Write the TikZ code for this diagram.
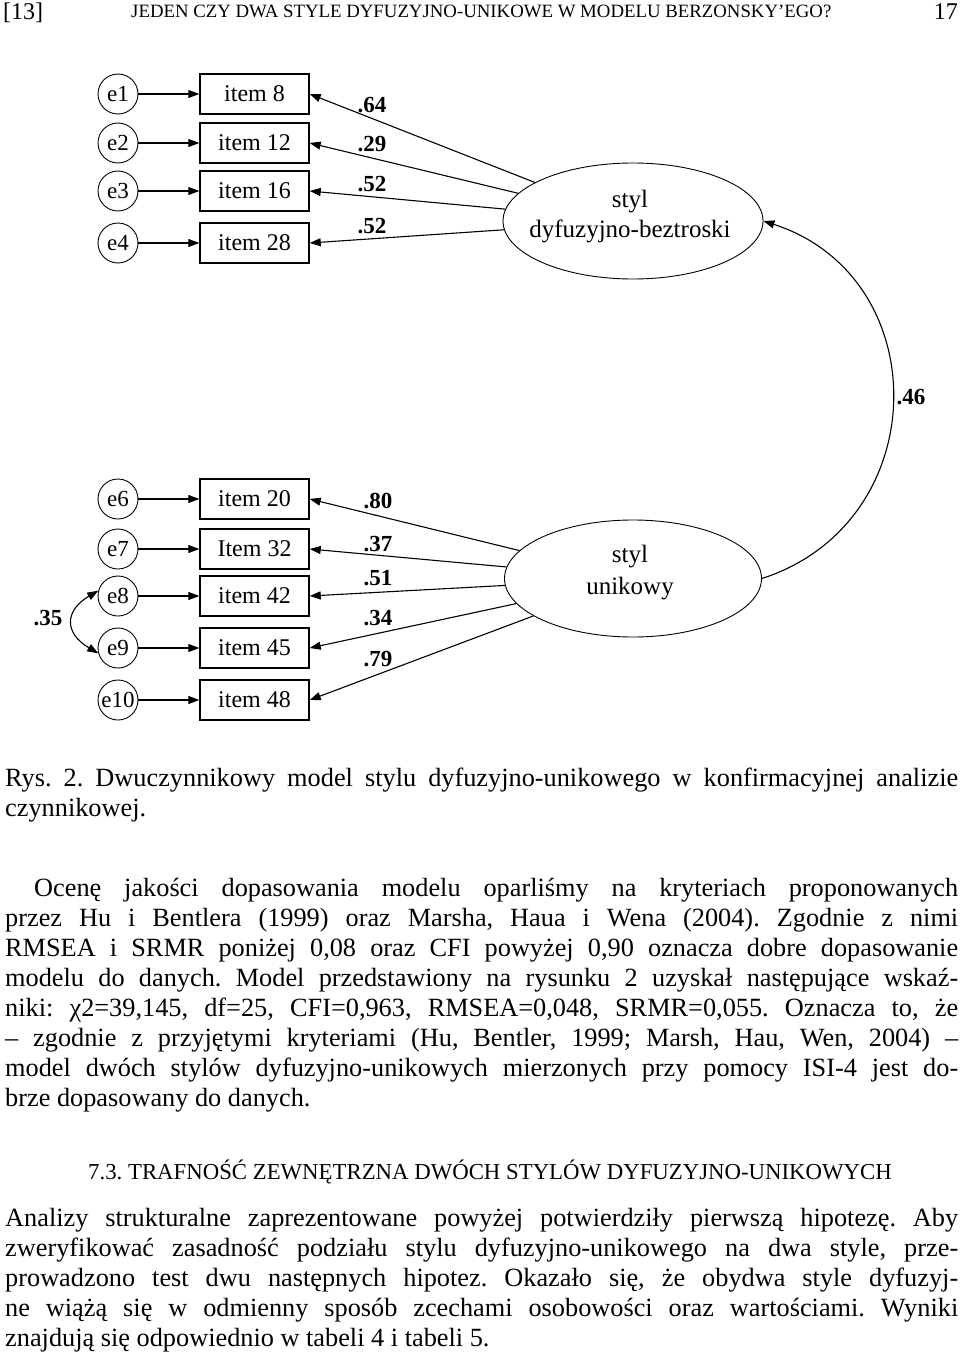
\documentclass[tikz,border=0pt]{standalone}
\usepackage{fontspec}
\setmainfont{Liberation Serif}
\usetikzlibrary{arrows.meta,shapes.geometric}
\frenchspacing
\begin{document}
\begin{tikzpicture}[x=1pt,y=-1pt,
  err/.style={draw,circle,minimum size=40pt,inner sep=0pt,line width=0.9pt,font=\fontsize{23}{23}\selectfont},
  obs/.style={draw,rectangle,minimum width=109pt,minimum height=40pt,inner sep=0pt,line width=1.4pt,font=\fontsize{24}{24}\selectfont},
  lat/.style={draw,ellipse,inner sep=0pt,line width=0.9pt},
  lattext/.style={anchor=base,inner sep=0pt,font=\fontsize{25}{30}\selectfont},
  coef/.style={inner sep=0pt,font=\bfseries\fontsize{23}{23}\selectfont},
  arr/.style={line width=1.1pt,-{Triangle[length=11pt,width=8pt]}},
  darr/.style={line width=1.1pt,{Triangle[length=11pt,width=8pt]}-{Triangle[length=11pt,width=8pt]}},
  body/.style={anchor=base west,inner sep=0pt,font=\fontsize{26.3}{30}\selectfont},
  head/.style={inner sep=0pt,font=\fontsize{18.8}{20}\selectfont},
]
\useasboundingbox (0,0) rectangle (960,1362);

% header
\node[anchor=base west,inner sep=0pt,font=\fontsize{24}{24}\selectfont] (pg1) at (3,20) {[13]};
\node[head,anchor=base west] (runhead) at (131,18) {JEDEN CZY DWA STYLE DYFUZYJNO-UNIKOWE W MODELU BERZONSKY’EGO?};
\node[anchor=base east,inner sep=0pt,font=\fontsize{24}{24}\selectfont] (pg2) at (958,20) {17};

% top factor
\node[err] (e1) at (118,94) {e1};
\node[err] (e2) at (118,143) {e2};
\node[err] (e3) at (118,191) {e3};
\node[err] (e4) at (118,243) {e4};
\node[obs] (b1) at (254.5,94) {item 8};
\node[obs] (b2) at (254.5,143) {item 12};
\node[obs] (b3) at (254.5,191) {item 16};
\node[obs] (b4) at (254.5,243) {item 28};
\node[lat,minimum width=260pt,minimum height=116pt] (f1) at (633,221) {};
\node[lattext] (f1a) at (630,207) {styl};
\node[lattext] (f1b) at (630,237) {dyfuzyjno-beztroski};
\foreach \i in {1,2,3,4}{\draw[arr] (e\i) -- (b\i);}
\foreach \i in {1,2,3,4}{\draw[arr] (f1) -- (b\i.east);}
\node[coef] (c1) at (372,105) {.64};
\node[coef] (c2) at (372,144) {.29};
\node[coef] (c3) at (372,184) {.52};
\node[coef] (c4) at (372,226) {.52};

% bottom factor
\node[err] (e6) at (118,499) {e6};
\node[err] (e7) at (118,549) {e7};
\node[err] (e8) at (118,596) {e8};
\node[err] (e9) at (118,648) {e9};
\node[err] (e10) at (118,700) {e10};
\node[obs] (b6) at (254.5,499) {item 20};
\node[obs] (b7) at (254.5,549) {Item 32};
\node[obs] (b8) at (254.5,596) {item 42};
\node[obs] (b9) at (254.5,648) {item 45};
\node[obs] (b10) at (254.5,700) {item 48};
\node[lat,minimum width=257pt,minimum height=117pt] (f2) at (633,578.5) {};
\node[lattext] (f2a) at (630,562) {styl};
\node[lattext] (f2b) at (630,594) {unikowy};
\foreach \i in {6,7,8,9,10}{\draw[arr] (e\i) -- (b\i);}
\foreach \i in {6,7,8,9,10}{\draw[arr] (f2) -- (b\i.east);}
\node[coef] (c6) at (378,501) {.80};
\node[coef] (c7) at (378,544) {.37};
\node[coef] (c8) at (378,578) {.51};
\node[coef] (c9) at (378,618) {.34};
\node[coef] (c10) at (378,659) {.79};

% covariances
\draw[darr] (e8.165) .. controls +(-34,20) and +(-34,-20) .. (e9.195);
\node[coef] (c35) at (48,618) {.35};
\draw[arr] (f2.east) .. controls +(173,-56) and +(173,56) .. (f1.east);
\node[coef] (c46) at (911,397) {.46};

% caption
\node[body] (cap1) at (5,786) {\hbox to 953pt{Rys. 2. Dwuczynnikowy model stylu dyfuzyjno-unikowego w konfirmacyjnej analizie}};
\node[body] (cap2) at (5,816) {czynnikowej.};

% paragraph 1
\node[body] (p1) at (34,896) {\hbox to 924pt{Ocenę jakości dopasowania modelu oparliśmy na kryteriach proponowanych}};
\node[body] (p2) at (5,926) {\hbox to 953pt{przez Hu i Bentlera (1999) oraz Marsha, Haua i Wena (2004). Zgodnie z nimi}};
\node[body] (p3) at (5,956) {\hbox to 953pt{RMSEA i SRMR poniżej 0,08 oraz CFI powyżej 0,90 oznacza dobre dopasowanie}};
\node[body] (p4) at (5,986) {\hbox to 953pt{modelu do danych. Model przedstawiony na rysunku 2 uzyskał następujące wskaź-}};
\node[body] (p5) at (5,1016) {\hbox to 953pt{niki: χ2=39,145, df=25, CFI=0,963, RMSEA=0,048, SRMR=0,055. Oznacza to, że}};
\node[body] (p6) at (5,1046) {\hbox to 953pt{– zgodnie z przyjętymi kryteriami (Hu, Bentler, 1999; Marsh, Hau, Wen, 2004) –}};
\node[body] (p7) at (5,1076) {\hbox to 953pt{model dwóch stylów dyfuzyjno-unikowych mierzonych przy pomocy ISI-4 jest do-}};
\node[body] (p8) at (5,1106) {brze dopasowany do danych.};

% heading
\node[anchor=base,inner sep=0pt,font=\fontsize{22.8}{24}\selectfont] (h73) at (490,1179) {7.3. TRAFNOŚĆ ZEWNĘTRZNA DWÓCH STYLÓW DYFUZYJNO-UNIKOWYCH};

% paragraph 2
\node[body] (q1) at (5,1226) {\hbox to 953pt{Analizy strukturalne zaprezentowane powyżej potwierdziły pierwszą hipotezę. Aby}};
\node[body] (q2) at (5,1256) {\hbox to 953pt{zweryfikować zasadność podziału stylu dyfuzyjno-unikowego na dwa style, prze-}};
\node[body] (q3) at (5,1286) {\hbox to 953pt{prowadzono test dwu następnych hipotez. Okazało się, że obydwa style dyfuzyj-}};
\node[body] (q4) at (5,1316) {\hbox to 953pt{ne wiążą się w odmienny sposób zcechami osobowości oraz wartościami. Wyniki}};
\node[body] (q5) at (5,1346) {znajdują się odpowiednio w tabeli 4 i tabeli 5.};
\end{tikzpicture}
\end{document}
